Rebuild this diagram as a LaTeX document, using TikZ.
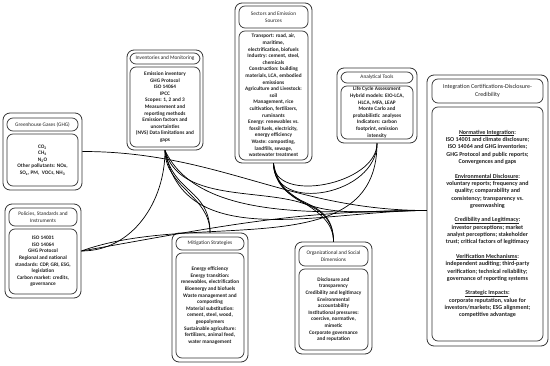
\documentclass[tikz,border=0pt]{standalone}
\usepackage{fontspec}
\setmainfont{Carlito}
\definecolor{linecol}{HTML}{333333}
\definecolor{txtcol}{HTML}{222222}
\newcommand\myunderline[1]{\setbox0\hbox{#1}\rlap{\rule[-1.3pt]{\wd0}{0.55pt}}\box0}
\begin{document}
\begin{tikzpicture}[x=1pt,y=-1pt,
  outerbox/.style={draw=linecol, line width=0.8pt, rounded corners=7pt, inner sep=0pt},
  headbox/.style={draw=linecol, line width=0.7pt, rounded corners=6pt, align=center, inner sep=0pt, text=txtcol, font=\fontsize{5.3}{6.6}\selectfont},
  bodybox/.style={draw=linecol, line width=0.7pt, rounded corners=6pt, align=center, inner sep=0pt, text=txtcol, font=\fontsize{5.3}{6.6}\selectfont\bfseries},
  bighead/.style={headbox, font=\fontsize{6}{7.3}\selectfont},
  bigbody/.style={bodybox, font=\fontsize{6}{7.3}\selectfont\bfseries},
  conn/.style={draw=black, line width=0.7pt}]
\useasboundingbox (0,0) rectangle (550,366);
\fill[white] (0,0) rectangle (550,366);

% GHG
\node[outerbox, minimum width=79pt, minimum height=77pt] (ghg) at (42.5,151.5) {};
\node[headbox, minimum width=71pt, minimum height=13pt] (ghgh) at (42.5,124.5) {Greenhouse Gases (GHG)};
\node[bodybox, minimum width=71pt, minimum height=52pt] (ghgb) at (42.5,160) {CO\textsubscript{2}\\CH\textsubscript{4}\\N\textsubscript{2}O\\Other pollutants: NOx,\\SO\textsubscript{x}, PM,\ \ VOCs, NH\textsubscript{3}};

% Policies
\node[outerbox, minimum width=76pt, minimum height=94pt] (pol) at (43,251) {};
\node[headbox, minimum width=68pt, minimum height=18pt] (polh) at (43,217) {Policies, Standards and\\Instruments};
\node[bodybox, minimum width=68pt, minimum height=65pt] (polb) at (43,261.5) {ISO 14001\\ISO 14064\\GHG Protocol\\Regional and national\\standards: CDP, GRI, ESG,\\legislation\\Carbon market: credits,\\governance};

% Inventories
\node[outerbox, minimum width=76pt, minimum height=100pt] (inv) at (165,100) {};
\node[headbox, minimum width=70pt, minimum height=11pt] (invh) at (165,58.5) {Inventories and Monitoring};
\node[bodybox, minimum width=70pt, minimum height=80pt] (invb) at (165,107) {Emission inventory\\GHG Protocol\\ISO 14064\\IPCC\\Scopes: 1, 2 and 3\\Measurement and\\reporting methods\\Emission factors and\\uncertainties\\(NVS) Data limitations and\\gaps};

% Sectors
\node[outerbox, minimum width=77pt, minimum height=160pt] (sec) at (273.5,83) {};
\node[headbox, minimum width=69pt, minimum height=22pt] (sech) at (273.5,17) {Sectors and Emission\\Sources};
\node[bodybox, minimum width=69pt, minimum height=129pt] (secb) at (273.5,95.5) {Transport: road, air,\\maritime,\\electrification, biofuels\\Industry: cement, steel,\\chemicals\\Construction: building\\materials, LCA, embodied\\emissions\\Agriculture and Livestock:\\soil\\Management, rice\\cultivation, fertilizers,\\ruminants\\Energy: renewables vs.\\fossil fuels, electricity,\\energy efficiency\\Waste: composting,\\landfills, sewage,\\wastewater treatment};

% Analytical tools
\node[outerbox, minimum width=80pt, minimum height=75pt] (ana) at (377,105.5) {};
\node[headbox, minimum width=72pt, minimum height=11pt] (anah) at (377,77.5) {Analytical Tools};
\node[bodybox, minimum width=72pt, minimum height=53pt] (anab) at (377,112.5) {Life Cycle Assessment\\Hybrid models: EIO-LCA,\\HLCA, MFA, LEAP\\Monte Carlo and\\probabilistic\ \ analyses\\Indicators: carbon\\footprint, emission\\intensity};

% Integration
\node[outerbox, minimum width=121pt, minimum height=271pt] (int) at (487.5,210.5) {};
\node[bighead, minimum width=111pt, minimum height=24pt] (inth) at (487.5,91) {Integration Certifications-Disclosure-\\Credibility};
\node[bigbody, minimum width=111pt, minimum height=234pt] (intb) at (487.5,224) {\myunderline{Normative Integration}:\\ISO 14001 and climate disclosure;\\ISO 14064 and GHG inventories;\\GHG Protocol and public reports;\\Convergences and gaps\\[7.3pt]\myunderline{Environmental Disclosure}:\\voluntary reports; frequency and\\quality; comparability and\\consistency; transparency vs.\\greenwashing\\[7.3pt]\myunderline{Credibility and Legitimacy}:\\investor perceptions; market\\analyst perceptions; stakeholder\\trust; critical factors of legitimacy\\[7.3pt]\myunderline{Verification Mechanisms}:\\independent auditing; third-party\\verification; technical reliability;\\governance of reporting systems\\[7.3pt]\myunderline{Strategic Impacts}:\\corporate reputation, value for\\investors/markets; ESG alignment;\\competitive advantage};

% Mitigation
\node[outerbox, minimum width=76pt, minimum height=129pt] (mit) at (210,297.5) {};
\node[headbox, minimum width=68pt, minimum height=13pt] (mith) at (210,243.5) {Mitigation Strategies};
\node[bodybox, minimum width=68pt, minimum height=105pt] (mitb) at (210,305.5) {Energy efficiency\\Energy transition:\\renewables, electrification\\Bioenergy and biofuels\\Waste management and\\composting\\Material substitution:\\cement, steel, wood,\\geopolymers\\Sustainable agriculture:\\fertilizers, animal feed,\\water management};

% Organizational
\node[outerbox, minimum width=77pt, minimum height=112pt] (org) at (333.5,298) {};
\node[headbox, minimum width=69pt, minimum height=20pt] (orgh) at (333.5,256) {Organizational and Social\\Dimensions};
\node[bodybox, minimum width=69pt, minimum height=81pt] (orgb) at (333.5,309.5) {Disclosure and\\transparency\\Credibility and legitimacy\\Environmental\\accountability\\Institutional pressures:\\coercive, normative,\\mimetic\\Corporate governance\\and reputation};

% connectors
\draw[conn] (ghg.east) to[out=0,in=180] (int.west);
\draw[conn] (inv.south) to[out=-90,in=0] (pol.east);
\draw[conn] (inv.south) to[out=-90,in=90] (mit.north);
\draw[conn] (inv.south) to[out=-80,in=90,looseness=1.2] (mit.north);
\draw[conn] (inv.south) to[out=-80,in=180] (int.west);
\draw[conn] (inv.south) to[out=-65,in=180,looseness=0.8] (int.west);
\draw[conn] (inv.south) to[out=-75,in=90] (org.north);
\draw[conn] (sec.south) to[out=-90,in=90] (org.north);
\draw[conn] (sec.south) to[out=-85,in=90,looseness=1.3] (org.north);
\draw[conn] (sec.south) to[out=-90,in=-90,looseness=1.0] (ana.south);
\draw[conn] (sec.south) to[out=-90,in=-90,looseness=1.25] (ana.south);
\draw[conn] (sec.south) to[out=-80,in=180] (int.west);
\draw[conn] (pol.east) to[out=20,in=-90] (ana.south);
\draw[conn] (pol.east) to[out=10,in=180] (int.west);
\end{tikzpicture}
\end{document}
